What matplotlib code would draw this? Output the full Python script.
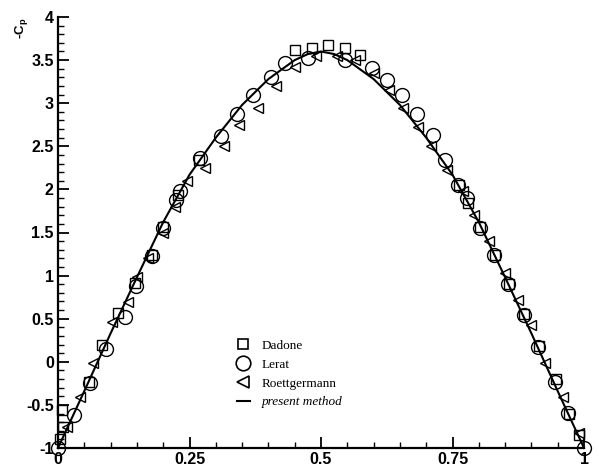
import matplotlib
matplotlib.use("Agg")
import matplotlib.pyplot as plt
from matplotlib.ticker import MultipleLocator, FixedLocator
from matplotlib.lines import Line2D

# present method (solid line)
present_x = [0.0, 0.05, 0.10, 0.15, 0.20, 0.25, 0.30, 0.35, 0.40, 0.45, 0.475, 0.50,
             0.525, 0.55, 0.60, 0.65, 0.70, 0.75, 0.80, 0.85, 0.90, 0.95, 1.0]
present_y = [-1.0, -0.34, 0.33, 0.98, 1.62, 2.17, 2.60, 2.98, 3.28, 3.50, 3.57, 3.60,
             3.57, 3.50, 3.28, 2.98, 2.60, 2.17, 1.62, 0.98, 0.33, -0.34, -1.0]

# Lerat (circles)
lerat_x = [0.0, 0.03, 0.06, 0.092, 0.127, 0.148, 0.178, 0.2, 0.225, 0.232, 0.27, 0.31,
           0.34, 0.37, 0.405, 0.432, 0.476, 0.546, 0.597, 0.626, 0.654, 0.683, 0.712,
           0.736, 0.761, 0.778, 0.803, 0.828, 0.856, 0.885, 0.913, 0.945, 0.97, 1.0]
lerat_y = [-1.0, -0.62, -0.25, 0.15, 0.52, 0.88, 1.23, 1.55, 1.88, 1.98, 2.36, 2.62,
           2.88, 3.1, 3.3, 3.47, 3.52, 3.5, 3.41, 3.27, 3.1, 2.88, 2.63,
           2.34, 2.05, 1.9, 1.55, 1.24, 0.9, 0.54, 0.17, -0.23, -0.59, -1.0]

# Dadone (squares)
dadone_x = [0.004, 0.01, 0.008, 0.058, 0.084, 0.114, 0.146, 0.178, 0.2, 0.228, 0.268,
            0.451, 0.483, 0.514, 0.546, 0.575, 0.762, 0.78, 0.803, 0.83, 0.858, 0.886,
            0.915, 0.946, 0.972, 0.99]
dadone_y = [-0.9, -0.76, -0.56, -0.23, 0.19, 0.57, 0.91, 1.24, 1.56, 1.93, 2.34,
            3.62, 3.64, 3.67, 3.64, 3.56, 2.05, 1.84, 1.56, 1.24, 0.9, 0.55,
            0.18, -0.2, -0.6, -0.85]

# Roettgermann (left triangles)
roett_x = [0.017, 0.042, 0.067, 0.102, 0.133, 0.15, 0.172, 0.2, 0.222, 0.245, 0.28,
           0.315, 0.345, 0.38, 0.415, 0.45, 0.49, 0.53, 0.565, 0.6, 0.63, 0.655,
           0.685, 0.71, 0.74, 0.77, 0.79, 0.82, 0.85, 0.875, 0.9, 0.926, 0.96, 0.99]
roett_y = [-0.76, -0.41, -0.01, 0.46, 0.69, 0.98, 1.2, 1.5, 1.8, 2.1, 2.25,
           2.5, 2.75, 2.95, 3.2, 3.42, 3.55, 3.55, 3.5, 3.35, 3.15, 2.95,
           2.72, 2.5, 2.22, 1.98, 1.7, 1.4, 1.03, 0.72, 0.43, -0.01, -0.41, -0.83]

x_ticks = [0, 0.25, 0.5, 0.75, 1]
x_labels = ["0", "0.25", "0.5", "0.75", "1"]
y_ticks = [-1, -0.5, 0, 0.5, 1, 1.5, 2, 2.5, 3, 3.5, 4]
y_labels = ["-1", "-0.5", "0", "0.5", "1", "1.5", "2", "2.5", "3", "3.5", "4"]

fig = plt.figure(figsize=(5.99, 4.67), dpi=100)
ax = fig.add_axes([58 / 599, 1 - 448 / 467, 526 / 599, 431 / 467])

ax.plot(dadone_x, dadone_y, "s", ms=7, mfc="none", mec="black", mew=1.0, clip_on=False)
ax.plot(lerat_x, lerat_y, "o", ms=10, mfc="none", mec="black", mew=1.0, clip_on=False)
ax.plot(roett_x, roett_y, "<", ms=7.5, mfc="none", mec="black", mew=1.0, clip_on=False)
ax.plot(present_x, present_y, "-", color="black", lw=1.5, clip_on=False)

ax.set_xlim(0, 1)
ax.set_ylim(-1, 4)
ax.spines["top"].set_visible(False)
ax.spines["right"].set_visible(False)
ax.spines["left"].set_linewidth(1.6)
ax.spines["bottom"].set_linewidth(1.6)

ax.xaxis.set_major_locator(FixedLocator(x_ticks))
ax.yaxis.set_major_locator(FixedLocator(y_ticks))
ax.xaxis.set_minor_locator(MultipleLocator(0.05))
ax.yaxis.set_minor_locator(MultipleLocator(0.1))
ax.set_xticklabels(x_labels)
ax.set_yticklabels(y_labels)
ax.tick_params(which="major", direction="in", length=8, width=1.3, labelsize=11.5, pad=3)
ax.tick_params(which="minor", direction="in", length=4, width=1.0)
for lab in ax.get_xticklabels() + ax.get_yticklabels():
    lab.set_fontfamily("Liberation Sans")
    lab.set_fontweight("bold")

fig.text(22 / 599, 1 - 28 / 467, "-C$_\\mathregular{p}$", rotation=90, ha="center", va="center",
         fontsize=9.5, fontfamily="Liberation Sans", fontweight="bold")

handles = [
    Line2D([], [], ls="none", marker="s", ms=7.5, mfc="none", mec="black", mew=1.2),
    Line2D([], [], ls="none", marker="o", ms=10.5, mfc="none", mec="black", mew=1.2),
    Line2D([], [], ls="none", marker="<", ms=8, mfc="none", mec="black", mew=1.2),
    Line2D([], [], color="black", lw=1.5),
]
labels = ["Dadone", "Lerat", "Roettgermann", "present method"]
leg = ax.legend(handles, labels, loc="upper left", bbox_to_anchor=(230 / 599, 1 - 333 / 467),
                bbox_transform=fig.transFigure, frameon=False, handlelength=1.0,
                handletextpad=0.9, labelspacing=0.5, borderpad=0,
                prop={"family": "Liberation Serif", "size": 9.5})
leg.get_texts()[3].set_fontstyle("italic")

fig.savefig("out.png", dpi=100)
